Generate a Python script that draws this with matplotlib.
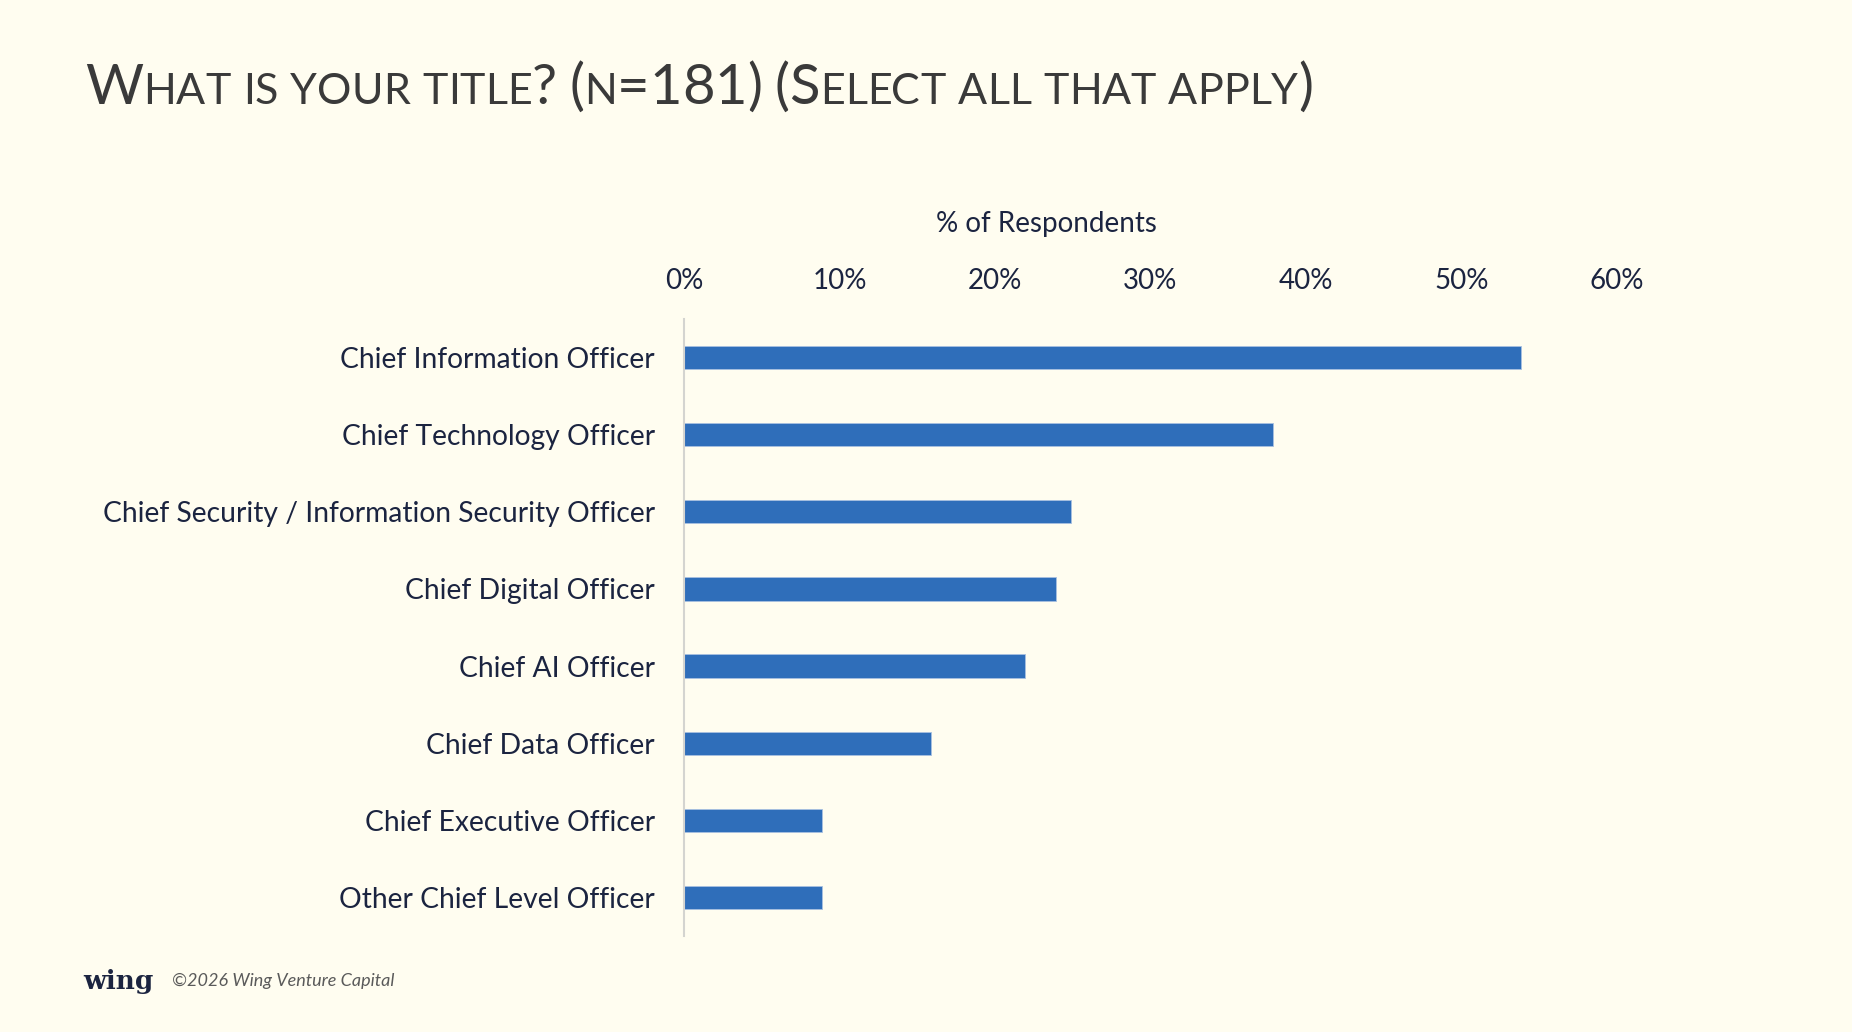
import matplotlib
matplotlib.use('Agg')
import matplotlib.pyplot as plt

# survey data, % of respondents
titles = [
    'Chief Information Officer',
    'Chief Technology Officer',
    'Chief Security / Information Security Officer',
    'Chief Digital Officer',
    'Chief AI Officer',
    'Chief Data Officer',
    'Chief Executive Officer',
    'Other Chief Level Officer',
]
pct = [53.8, 37.9, 24.9, 23.9, 21.9, 15.9, 8.9, 8.9]
ticks = [0, 10, 20, 30, 40, 50, 60]
tick_labels = ['0%', '10%', '20%', '30%', '40%', '50%', '60%']

bg = '#FFFDF0'
bar_col = '#2F6EBA'
navy = '#1B2440'

plt.rcParams['font.family'] = ['Lato', 'DejaVu Sans']

W, H = 1852, 1032
fig = plt.figure(figsize=(W / 100, H / 100), dpi=100, facecolor=bg)

# axes placement in pixels
x0, x1 = 684, 1617
y_top, y_bot = 319, 936
ax = fig.add_axes([x0 / W, 1 - y_bot / H, (x1 - x0) / W, (y_bot - y_top) / H])
ax.set_facecolor(bg)

ypos = list(range(len(titles)))
ax.barh(ypos, pct, height=0.3, color=bar_col, edgecolor='#A9C0E0', linewidth=0.6)
ax.set_ylim(len(titles) - 0.5, -0.5)
ax.set_xlim(0, 60)

ax.set_yticks(ypos)
ax.set_yticklabels(titles, fontsize=20.3, color=navy)
ax.xaxis.tick_top()
ax.set_xticks(ticks)
ax.set_xticklabels(tick_labels, fontsize=20, color=navy)
ax.tick_params(axis='both', length=0)
ax.tick_params(axis='y', pad=21)
ax.tick_params(axis='x', pad=18)
for s in ['top', 'right', 'bottom']:
    ax.spines[s].set_visible(False)
ax.spines['left'].set_color('#D4D4D0')
ax.spines['left'].set_linewidth(1.5)

fig.text(1046 / W, 1 - 224 / H, '% of Respondents', fontsize=20, color=navy,
         ha='center', va='center')

# small caps title, built piece by piece
title = 'What is your title? (n=181) (Select all that apply)'
big, small = 40.4, 31
renderer = fig.canvas.get_renderer()
x = 85
base = 1 - 104 / H
for ch in title:
    if ch.islower():
        t = fig.text(x / W, base, ch.upper(), fontsize=small, color='#3A3A3A',
                     va='baseline')
    else:
        t = fig.text(x / W, base, ch, fontsize=big, color='#3A3A3A',
                     va='baseline')
    if ch == ' ':
        x += big * 0.22 * 100 / 72
    else:
        bb = t.get_window_extent(renderer)
        x += bb.width

# footer
fig.text(83 / W, 1 - 981 / H, 'wing', fontsize=19, color=navy, fontweight='bold',
         family='DejaVu Serif', va='center')
fig.text(172 / W, 1 - 981 / H, '\u00a92026 Wing Venture Capital', fontsize=13,
         color='#5A5A5A', style='italic', va='center')

fig.savefig('out.png', dpi=100, facecolor=bg)
